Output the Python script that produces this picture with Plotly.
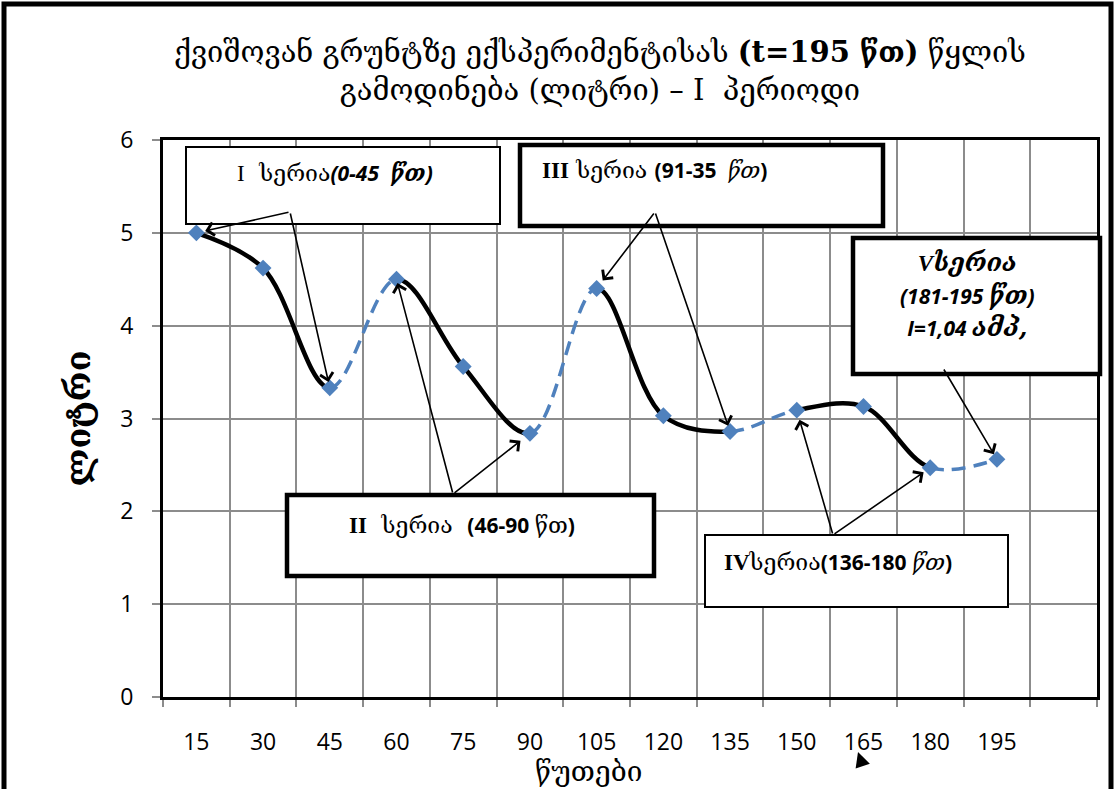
import math
import plotly.graph_objects as go

minutes = [15, 30, 45, 60, 75, 90, 105, 120, 135, 150, 165, 180, 195]
liters = [5.0, 4.62, 3.33, 4.50, 3.56, 2.84, 4.40, 3.03, 2.86, 3.09, 3.13, 2.47, 2.56]
series_groups = [[0, 1, 2], [3, 4, 5], [6, 7, 8], [9, 10, 11]]
y_ticks = [0, 1, 2, 3, 4, 5, 6]

title_text = "ქვიშოვან გრუნტზე ექსპერიმენტისას <b>(t=195 წთ)</b> წყლის<br>გამოდინება (ლიტრი) – I  პერიოდი"
x_title = "წუთები"
y_title = "ლიტრი"

BLUE = "#4F81BD"
GEO = "DejaVu Serif"
SANS = "Open Sans"

W, H = 1115, 789
L, R, T, B = 163, 18, 140, 92
PW, PH = W - L - R, H - T - B
XR = (7.5, 217.5)
YR = (0, 6)


def px(x):
    return (x - L) / PW


def py(y):
    return (H - B - y) / PH


# ---- data <-> pixel mapping (same as the axes below) for smoothing control points
def d2p(x, y):
    return (L + (x - XR[0]) / (XR[1] - XR[0]) * PW, T + (YR[1] - y) / (YR[1] - YR[0]) * PH)


def p2d(X, Y):
    return (XR[0] + (X - L) / PW * (XR[1] - XR[0]), YR[1] - (Y - T) / PH * (YR[1] - YR[0]))


pts = [d2p(x, y) for x, y in zip(minutes, liters)]


def tangent(prev, this, nxt, s=1.0):
    d1x, d1y = prev[0] - this[0], prev[1] - this[1]
    d2x, d2y = nxt[0] - this[0], nxt[1] - this[1]
    d1a = math.pow(d1x * d1x + d1y * d1y, 0.25)
    d2a = math.pow(d2x * d2x + d2y * d2y, 0.25)
    numx = (d2a * d2a * d1x - d1a * d1a * d2x) * s
    numy = (d2a * d2a * d1y - d1a * d1a * d2y) * s
    den1 = 3 * d2a * (d1a + d2a)
    den2 = 3 * d1a * (d1a + d2a)
    return ((this[0] + numx / den1, this[1] + numy / den1),
            (this[0] - numx / den2, this[1] - numy / den2))


n = len(pts)
tans = {i: tangent(pts[i - 1], pts[i], pts[i + 1]) for i in range(1, n - 1)}


def fmt(p):
    x, y = p2d(*p)
    return f"{x:.4f},{y:.4f}"


def seg(k):
    b = pts[k + 1]
    if k == 0:
        return " Q" + fmt(tans[1][0]) + " " + fmt(b)
    if k + 1 == n - 1:
        return " Q" + fmt(tans[k][1]) + " " + fmt(b)
    return " C" + fmt(tans[k][1]) + " " + fmt(tans[k + 1][0]) + " " + fmt(b)


fig = go.Figure()

shapes = []
annotations = []

# dashed blue connections between series
for g in series_groups:
    k = g[-1]
    shapes.append(dict(type="path", xref="x", yref="y", layer="between",
                       path="M" + fmt(pts[k]) + seg(k),
                       line=dict(color=BLUE, width=3.5, dash="14px,8px")))
# solid black series curves
for g in series_groups:
    path = "M" + fmt(pts[g[0]])
    for k in g[:-1]:
        path += seg(k)
    shapes.append(dict(type="path", xref="x", yref="y", layer="between",
                       path=path, line=dict(color="black", width=4.5)))

fig.add_trace(go.Scatter(
    x=minutes, y=liters, mode="markers",
    marker=dict(symbol="diamond", size=13, color=BLUE),
    showlegend=False))


def box(x0, y0, x1, y1, w):
    shapes.append(dict(type="rect", xref="paper", yref="paper",
                       x0=px(x0), x1=px(x1), y0=py(y1), y1=py(y0),
                       line=dict(color="black", width=w), fillcolor="white", layer="above"))


def label(text, x, y, xanchor="left", size=23):
    annotations.append(dict(text=text, xref="paper", yref="paper", x=px(x), y=py(y),
                            xanchor=xanchor, yanchor="middle", showarrow=False,
                            font=dict(family=GEO, size=size, color="black"), align="center"))


def sans(t, b=True, i=False):
    s = t
    if i:
        s = "<i>" + s + "</i>"
    if b:
        s = "<b>" + s + "</b>"
    return '<span style="font-family:' + SANS + ';font-size:21px">' + s + "</span>"


def roman(t, b=False):
    s = '<span style="font-family:Liberation Serif;font-size:23px">' + t + "</span>"
    return "<b>" + s + "</b>" if b else s


# boxes
box(186, 147, 500, 224, 2)
label(roman("I") + "  სერია" + sans("(0-45  ", True, True) + "<b><i>წთ</i></b>" + sans(")", True, True), 235, 173)
box(520, 145, 883, 226, 4.5)
label(roman("III", True) + " სერია " + sans("(91-35  ") + "<i>წთ</i>" + sans(")"), 540, 170)
box(853, 238, 1100, 374, 4.5)
label("<b><i>" + roman("V") + "სერია</i></b><br>" + sans("(181-195 ", True, True) + "<b><i>წთ</i></b>" + sans(")", True, True)
      + "<br>" + sans("I=1,04 ", True, True) + "<b><i>ამპ,</i></b>", 967, 295, "center", 25)
box(287, 495, 654, 576, 4.5)
label(roman("II", True) + "  სერია  " + sans("(46-90 ") + "წთ" + sans(")"), 462, 525, "center")
box(705, 535, 1008, 607, 2)
label(roman("IV", True) + "სერია" + sans("(136-180 ") + "<i>წთ</i>" + sans(")"), 722, 562)

# outer frame
shapes.append(dict(type="rect", xref="paper", yref="paper",
                   x0=px(4), x1=px(1111), y0=py(820), y1=py(4),
                   line=dict(color="black", width=5), layer="above"))

# x axis title
annotations.append(dict(text=x_title, xref="paper", yref="paper", x=px(588), y=py(771),
                        xanchor="center", yanchor="middle", showarrow=False,
                        font=dict(family=GEO, size=28, color="black")))


def to_dx(p):
    return p2d(p, 0)[0]


def to_dy(p):
    return p2d(0, p)[1]


def arrow(i, tail, standoff):
    annotations.append(dict(x=minutes[i], y=liters[i], xref="x", yref="y",
                            ax=to_dx(tail[0]), ay=to_dy(tail[1]), axref="x", ayref="y",
                            showarrow=True, arrowhead=4, arrowsize=1.6, arrowwidth=1.6,
                            arrowcolor="black", standoff=standoff, text=""))


arrow(0, (290, 212), 9)
arrow(2, (290, 212), 6)
arrow(6, (655, 212), 10)
arrow(8, (655, 212), 6)
arrow(12, (943, 368), 6)
arrow(3, (453, 494), 4)
arrow(5, (453, 494), 12)
arrow(9, (833, 535), 10)
arrow(11, (833, 535), 8)

# stray small triangle under the axis
annotations.append(dict(x=px(858), y=py(752), xref="paper", yref="paper", ax=4, ay=12,
                        showarrow=True, arrowhead=2, arrowsize=2, arrowwidth=1.5,
                        arrowcolor="black", text=""))

fig.update_layout(
    width=W, height=H,
    margin=dict(l=L, r=R, t=T, b=B),
    paper_bgcolor="white", plot_bgcolor="white",
    title=dict(text=title_text, x=0.538, xanchor="center", y=1 - 62 / H, yanchor="middle",
               xref="container", yref="container",
               font=dict(family=GEO, size=29, color="black")),
    xaxis=dict(range=list(XR), tickvals=minutes, ticktext=[str(m) for m in minutes],
               showgrid=False, ticks="", zeroline=False, ticklabelstandoff=22,
               showline=True, mirror=True, linecolor="black", linewidth=3,
               tickfont=dict(family=SANS, size=23, color="black"),
               minor=dict(tick0=7.5, dtick=15, showgrid=True, gridcolor="#8c8c8c", gridwidth=1.5,
                          ticks="outside", ticklen=7, tickcolor="#8c8c8c", tickwidth=1.5)),
    yaxis=dict(range=list(YR), tickvals=y_ticks, showgrid=True, gridcolor="#8c8c8c", gridwidth=1.5,
               ticks="outside", ticklen=8, tickcolor="#8c8c8c", tickwidth=1.5, zeroline=False,
               ticklabelstandoff=14,
               showline=True, mirror=True, linecolor="black", linewidth=3,
               tickfont=dict(family=SANS, size=23, color="black"),
               title=dict(text="<b>" + y_title + "</b>", font=dict(family=GEO, size=34, color="black"), standoff=20)),
    shapes=shapes, annotations=annotations,
)

fig.write_html("out.html")
